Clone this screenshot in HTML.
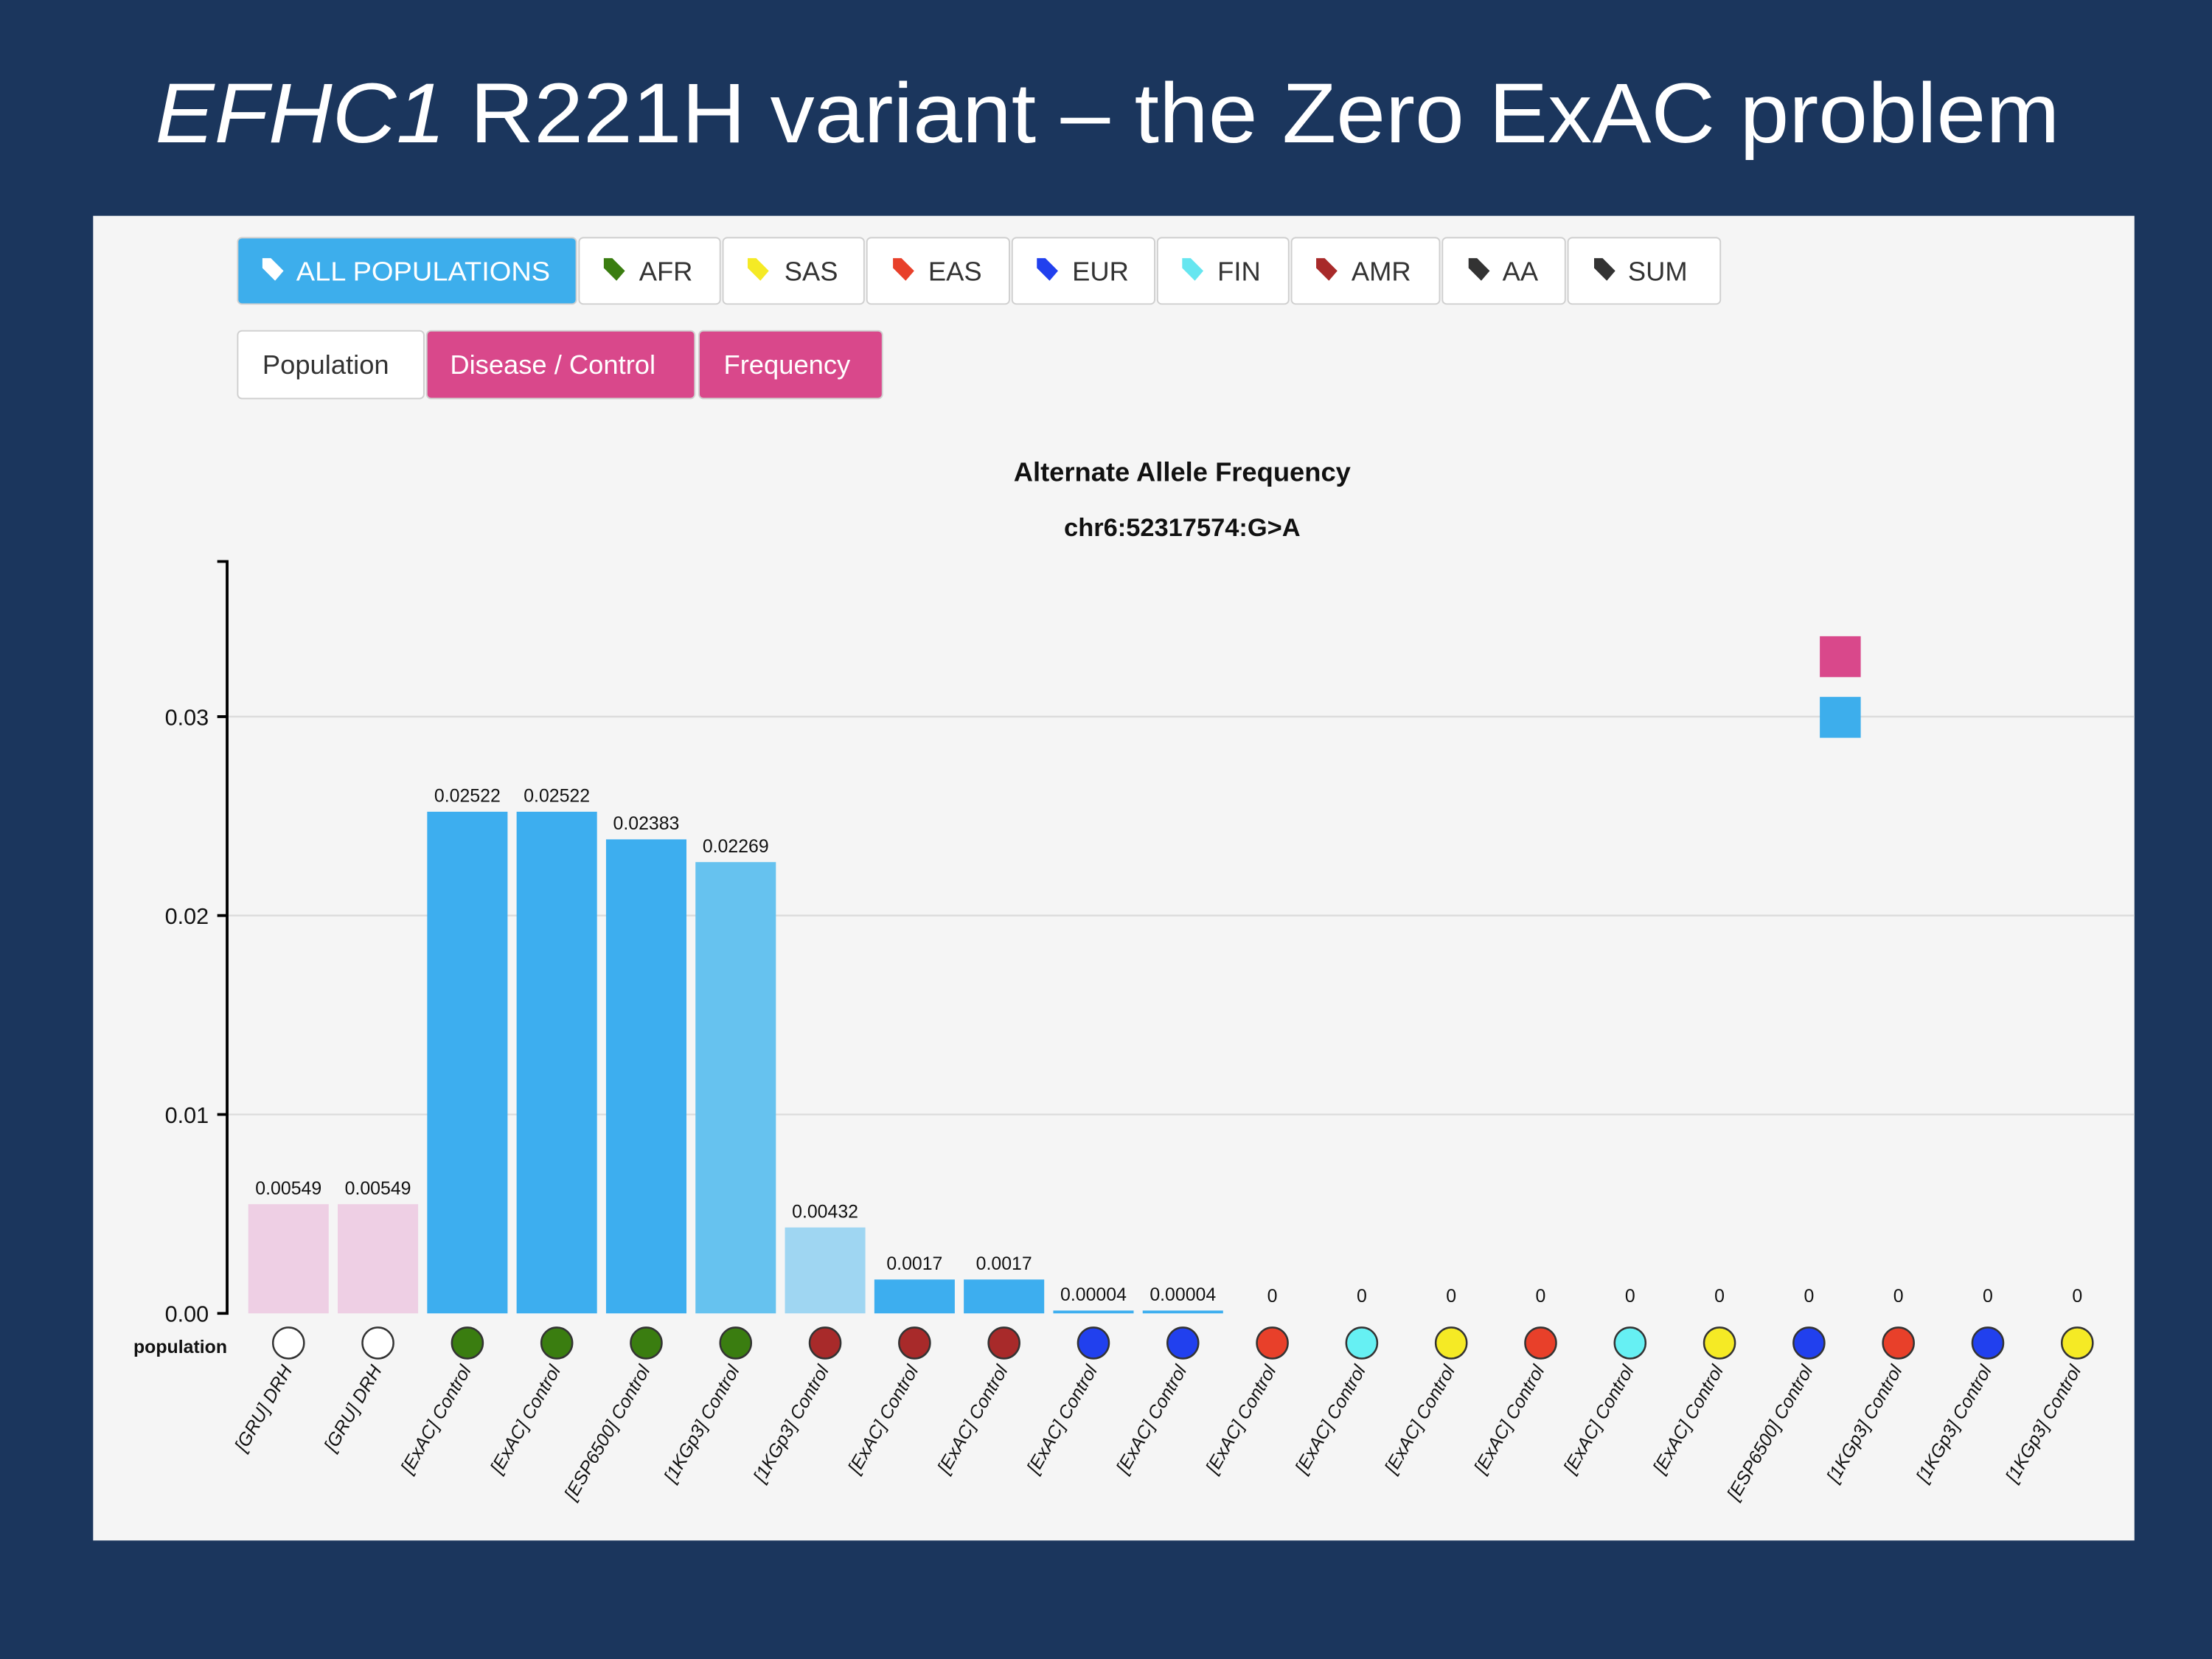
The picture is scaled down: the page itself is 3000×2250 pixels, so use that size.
<!DOCTYPE html>
<html><head><meta charset="utf-8"><style>html,body{margin:0;padding:0;background:#1b365d}svg{display:block}</style></head><body>
<svg width="3000" height="2250" viewBox="0 0 1568 1176" xmlns="http://www.w3.org/2000/svg" font-family="Liberation Sans, sans-serif">
<rect width="1568" height="1176" fill="#1b365d"/>
<text x="785" y="101" text-anchor="middle" fill="#fff" font-size="60" textLength="1350" lengthAdjust="spacingAndGlyphs"><tspan font-style="italic">EFHC1</tspan> R221H variant – the Zero ExAC problem</text>
<rect x="66" y="153" width="1447" height="939" fill="#f5f5f5"/>
<g font-size="19" stroke-width="1">
<rect x="168.5" y="168.5" width="240" height="47" rx="3" fill="#3daeec" stroke="#cfcfcf"/>
<text x="210" y="199" fill="#fff" textLength="180" lengthAdjust="spacingAndGlyphs">ALL POPULATIONS</text>
<g stroke="#cfcfcf" fill="#fff">
<rect x="410.5" y="168.5" width="100" height="47" rx="3"/><rect x="512.5" y="168.5" width="100" height="47" rx="3"/>
<rect x="614.5" y="168.5" width="101" height="47" rx="3"/><rect x="717.5" y="168.5" width="101" height="47" rx="3"/>
<rect x="820.5" y="168.5" width="93" height="47" rx="3"/><rect x="915.5" y="168.5" width="105" height="47" rx="3"/>
<rect x="1022.5" y="168.5" width="87" height="47" rx="3"/><rect x="1111.5" y="168.5" width="108" height="47" rx="3"/>
<rect x="168.5" y="234.5" width="132" height="48" rx="3"/>
</g>
<g fill="#333"><text x="453" y="199">AFR</text><text x="556" y="199">SAS</text><text x="658" y="199">EAS</text><text x="760" y="199">EUR</text><text x="863" y="199">FIN</text><text x="958" y="199">AMR</text><text x="1065" y="199">AA</text><text x="1154" y="199">SUM</text>
<text x="186" y="265">Population</text></g>
<rect x="302.5" y="234.5" width="190" height="48" rx="3" fill="#d9488b" stroke="#cfcfcf"/>
<rect x="495.5" y="234.5" width="130" height="48" rx="3" fill="#d9488b" stroke="#cfcfcf"/>
<text x="319" y="265" fill="#fff">Disease / Control</text><text x="513" y="265" fill="#fff">Frequency</text>
</g>
<g>
<path d="M186 183 h6 l9 9 -6 7 -9 -9z" fill="#fff"/>
<path d="M428 183 h6 l9 9 -6 7 -9 -9z" fill="#3a7d10"/>
<path d="M530 183 h6 l9 9 -6 7 -9 -9z" fill="#f5ea25"/>
<path d="M633 183 h6 l9 9 -6 7 -9 -9z" fill="#e8402a"/>
<path d="M735 183 h6 l9 9 -6 7 -9 -9z" fill="#2140ee"/>
<path d="M838 183 h6 l9 9 -6 7 -9 -9z" fill="#66e6f0"/>
<path d="M933 183 h6 l9 9 -6 7 -9 -9z" fill="#a82a2a"/>
<path d="M1041 183 h6 l9 9 -6 7 -9 -9z" fill="#333"/>
<path d="M1130 183 h6 l9 9 -6 7 -9 -9z" fill="#333"/>
</g>
<text x="838" y="341" text-anchor="middle" font-size="19" font-weight="bold" fill="#111">Alternate Allele Frequency</text>
<text x="838" y="380" text-anchor="middle" font-size="18" font-weight="bold" fill="#111">chr6:52317574:G&gt;A</text>
<g stroke="#dcdcdc" stroke-width="1.2"><line x1="161" y1="508" x2="1513" y2="508"/><line x1="161" y1="649" x2="1513" y2="649"/><line x1="161" y1="790" x2="1513" y2="790"/></g>
<path d="M154 398 H161 V931 H154 M154 508 H161 M154 649 H161 M154 790 H161" fill="none" stroke="#000" stroke-width="2"/>
<g font-size="16" text-anchor="end" fill="#111"><text x="148" y="514">0.03</text><text x="148" y="655">0.02</text><text x="148" y="796">0.01</text><text x="148" y="937">0.00</text></g>
<text x="161" y="959" text-anchor="end" font-size="13" font-weight="bold" fill="#111">population</text>
<rect x="1290" y="451" width="29" height="29" fill="#d9488b"/>
<rect x="1290" y="494" width="29" height="29" fill="#3daeec"/>
<g>
<rect x="176" y="853.6" width="57" height="77.4" fill="#eecfe4"/>
<rect x="239.4" y="853.6" width="57" height="77.4" fill="#eecfe4"/>
<rect x="302.8" y="575.4" width="57" height="355.6" fill="#3daeef"/>
<rect x="366.2" y="575.4" width="57" height="355.6" fill="#3daeef"/>
<rect x="429.6" y="595" width="57" height="336" fill="#3daeef"/>
<rect x="493" y="611.1" width="57" height="319.9" fill="#66c2ef"/>
<rect x="556.4" y="870.1" width="57" height="60.9" fill="#9fd6f2"/>
<rect x="619.8" y="907" width="57" height="24" fill="#3daeef"/>
<rect x="683.2" y="907" width="57" height="24" fill="#3daeef"/>
<rect x="746.6" y="929" width="57" height="2" fill="#3daeef"/>
<rect x="810" y="929" width="57" height="2" fill="#3daeef"/>
</g>
<g font-size="13" text-anchor="middle" fill="#111">
<text x="204.5" y="846.6">0.00549</text><text x="267.9" y="846.6">0.00549</text>
<text x="331.3" y="568.4">0.02522</text><text x="394.7" y="568.4">0.02522</text>
<text x="458.1" y="588">0.02383</text><text x="521.5" y="604.1">0.02269</text>
<text x="584.9" y="863.1">0.00432</text><text x="648.3" y="900">0.0017</text><text x="711.7" y="900">0.0017</text>
<text x="775.1" y="922">0.00004</text><text x="838.5" y="922">0.00004</text>
<text x="901.9" y="923">0</text><text x="965.3" y="923">0</text><text x="1028.7" y="923">0</text><text x="1092.1" y="923">0</text><text x="1155.5" y="923">0</text><text x="1218.9" y="923">0</text><text x="1282.3" y="923">0</text><text x="1345.7" y="923">0</text><text x="1409.1" y="923">0</text><text x="1472.5" y="923">0</text>
</g>
<g stroke="#333" stroke-width="1.3">
<circle cx="204.5" cy="952" r="11" fill="#fff"/><circle cx="267.9" cy="952" r="11" fill="#fff"/>
<circle cx="331.3" cy="952" r="11" fill="#3a7d10"/><circle cx="394.7" cy="952" r="11" fill="#3a7d10"/>
<circle cx="458.1" cy="952" r="11" fill="#3a7d10"/><circle cx="521.5" cy="952" r="11" fill="#3a7d10"/>
<circle cx="584.9" cy="952" r="11" fill="#a82a2a"/><circle cx="648.3" cy="952" r="11" fill="#a82a2a"/><circle cx="711.7" cy="952" r="11" fill="#a82a2a"/>
<circle cx="775.1" cy="952" r="11" fill="#2140ee"/><circle cx="838.5" cy="952" r="11" fill="#2140ee"/>
<circle cx="901.9" cy="952" r="11" fill="#e8402a"/><circle cx="965.3" cy="952" r="11" fill="#66f0f3"/><circle cx="1028.7" cy="952" r="11" fill="#f5ea25"/>
<circle cx="1092.1" cy="952" r="11" fill="#e8402a"/><circle cx="1155.5" cy="952" r="11" fill="#66f0f3"/><circle cx="1218.9" cy="952" r="11" fill="#f5ea25"/>
<circle cx="1282.3" cy="952" r="11" fill="#2140ee"/><circle cx="1345.7" cy="952" r="11" fill="#e8402a"/><circle cx="1409.1" cy="952" r="11" fill="#2140ee"/><circle cx="1472.5" cy="952" r="11" fill="#f5ea25"/>
</g>
<g font-size="13" font-style="italic" fill="#111" text-anchor="end">
<text transform="translate(207.5,971) rotate(-60)">[GRU] DRH</text>
<text transform="translate(270.9,971) rotate(-60)">[GRU] DRH</text>
<text transform="translate(334.3,971) rotate(-60)">[ExAC] Control</text>
<text transform="translate(397.7,971) rotate(-60)">[ExAC] Control</text>
<text transform="translate(461.1,971) rotate(-60)">[ESP6500] Control</text>
<text transform="translate(524.5,971) rotate(-60)">[1KGp3] Control</text>
<text transform="translate(587.9,971) rotate(-60)">[1KGp3] Control</text>
<text transform="translate(651.3,971) rotate(-60)">[ExAC] Control</text>
<text transform="translate(714.7,971) rotate(-60)">[ExAC] Control</text>
<text transform="translate(778.1,971) rotate(-60)">[ExAC] Control</text>
<text transform="translate(841.5,971) rotate(-60)">[ExAC] Control</text>
<text transform="translate(904.9,971) rotate(-60)">[ExAC] Control</text>
<text transform="translate(968.3,971) rotate(-60)">[ExAC] Control</text>
<text transform="translate(1031.7,971) rotate(-60)">[ExAC] Control</text>
<text transform="translate(1095.1,971) rotate(-60)">[ExAC] Control</text>
<text transform="translate(1158.5,971) rotate(-60)">[ExAC] Control</text>
<text transform="translate(1221.9,971) rotate(-60)">[ExAC] Control</text>
<text transform="translate(1285.3,971) rotate(-60)">[ESP6500] Control</text>
<text transform="translate(1348.7,971) rotate(-60)">[1KGp3] Control</text>
<text transform="translate(1412.1,971) rotate(-60)">[1KGp3] Control</text>
<text transform="translate(1475.5,971) rotate(-60)">[1KGp3] Control</text>
</g>
</svg>
</body></html>
